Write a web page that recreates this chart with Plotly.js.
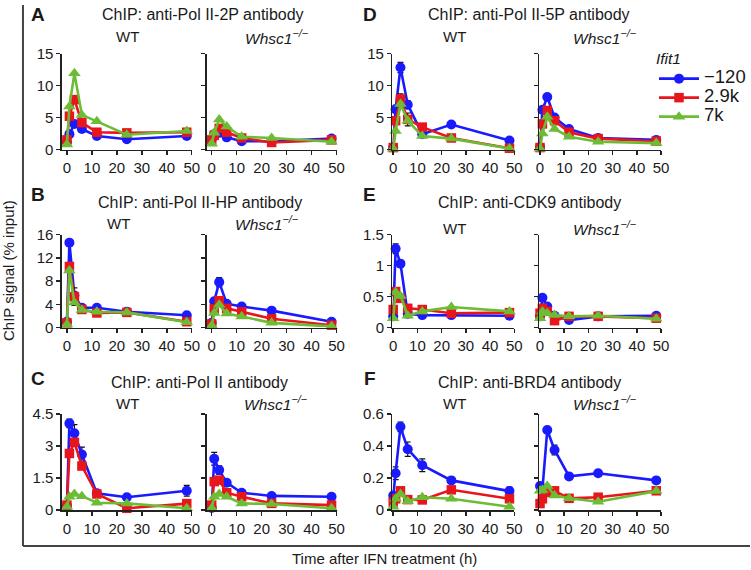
<!DOCTYPE html>
<html>
<head>
<meta charset="utf-8">
<script src="https://cdn.plot.ly/plotly-3.0.1.min.js"></script>
<style>
  html, body { margin: 0; padding: 0; background: #fff; }
  #chart { width: 751px; height: 570px; }
</style>
</head>
<body>
<div id="chart"></div>
<script>
// ---------- DATA ----------
const times = [0, 1, 3, 6, 12, 24, 48];
const seriesNames = ['\u2212120', '2.9k', '7k'];
const genotypes = ['WT', 'Whsc1'];
const panelLetters = ['A', 'B', 'C', 'D', 'E', 'F'];
const panelTitles = [
  'ChIP: anti-Pol II-2P antibody',
  'ChIP: anti-Pol II-HP antibody',
  'ChIP: anti-Pol II antibody',
  'ChIP: anti-Pol II-5P antibody',
  'ChIP: anti-CDK9 antibody',
  'ChIP: anti-BRD4 antibody'
];
const xTicks = [0, 10, 20, 30, 40, 50];
const yTicksA = [0, 5, 10, 15];
const yTicksB = [0, 4, 8, 12, 16];
const yTicksC = [0, 1.5, 3, 4.5];
const yTicksD = [0, 5, 10, 15];
const yTicksE = [0, 0.5, 1, 1.5];
const yTicksF = [0, 0.2, 0.4, 0.6];

// A: anti-Pol II-2P
const A_WT_m120 = [1.2, 2.4, 4.0, 3.2, 2.1, 1.6, 2.1];
const A_WT_2k9  = [1.5, 5.2, 7.8, 4.2, 2.7, 2.6, 2.7];
const A_WT_7k   = [0.8, 6.7, 11.9, 5.4, 4.4, 2.3, 2.9];
const A_KO_m120 = [1.6, 2.4, 2.6, 1.9, 1.3, 1.3, 1.7];
const A_KO_2k9  = [1.5, 2.2, 3.3, 2.7, 1.8, 1.1, 1.5];
const A_KO_7k   = [0.9, 2.6, 4.7, 3.6, 2.0, 1.8, 1.2];
// B: anti-Pol II-HP
const B_WT_m120 = [1.0, 14.6, 5.5, 3.4, 3.4, 2.7, 2.1];
const B_WT_2k9  = [0.8, 10.5, 5.3, 3.1, 2.5, 2.6, 1.0];
const B_WT_7k   = [0.5, 9.8, 4.3, 3.0, 2.7, 2.6, 0.9];
const B_KO_m120 = [0.8, 4.5, 7.8, 4.1, 3.6, 2.9, 1.0];
const B_KO_2k9  = [0.6, 3.2, 4.6, 3.3, 2.7, 1.5, 0.4];
const B_KO_7k   = [0.3, 2.5, 3.9, 2.4, 1.9, 0.8, 0.2];
// C: anti-Pol II
const C_WT_m120 = [0.2, 4.06, 3.6, 2.6, 0.78, 0.6, 0.9];
const C_WT_2k9  = [0.23, 2.65, 3.17, 2.06, 0.75, 0.08, 0.3];
const C_WT_7k   = [0.15, 0.62, 0.75, 0.65, 0.34, 0.31, 0.08];
const C_KO_m120 = [0.1, 2.4, 1.87, 1.28, 0.81, 0.66, 0.62];
const C_KO_2k9  = [0.23, 1.33, 1.4, 0.81, 0.62, 0.31, 0.23];
const C_KO_7k   = [0.08, 0.62, 0.75, 0.62, 0.31, 0.28, 0.08];
// D: anti-Pol II-5P
const D_WT_m120 = [0.3, 6.3, 12.8, 7.0, 2.4, 3.9, 1.4];
const D_WT_2k9  = [0.3, 4.5, 7.9, 4.7, 3.5, 1.8, 0.2];
const D_WT_7k   = [0.1, 2.9, 7.1, 4.5, 2.1, 1.7, 0.15];
const D_KO_m120 = [0.4, 6.2, 8.2, 5.0, 3.2, 1.8, 1.5];
const D_KO_2k9  = [0.3, 4.0, 6.1, 4.5, 2.7, 1.7, 1.3];
const D_KO_7k   = [0.1, 2.5, 5.1, 3.2, 2.0, 1.2, 1.0];
// E: anti-CDK9
const E_WT_m120 = [0.18, 1.27, 1.03, 0.22, 0.2, 0.2, 0.19];
const E_WT_2k9  = [0.29, 0.58, 0.47, 0.31, 0.29, 0.23, 0.24];
const E_WT_7k   = [0.15, 0.57, 0.51, 0.19, 0.26, 0.33, 0.26];
const E_KO_m120 = [0.18, 0.48, 0.34, 0.19, 0.12, 0.18, 0.19];
const E_KO_2k9  = [0.23, 0.31, 0.26, 0.11, 0.18, 0.18, 0.15];
const E_KO_7k   = [0.15, 0.26, 0.23, 0.2, 0.18, 0.19, 0.14];
// F: anti-BRD4
const F_WT_m120 = [0.09, 0.23, 0.52, 0.38, 0.28, 0.185, 0.118];
const F_WT_2k9  = [0.05, 0.07, 0.12, 0.065, 0.063, 0.126, 0.07];
const F_WT_7k   = [0.02, 0.07, 0.1, 0.055, 0.08, 0.07, 0.02];
const F_KO_m120 = [0.15, 0.13, 0.5, 0.375, 0.21, 0.23, 0.185];
const F_KO_2k9  = [0.04, 0.07, 0.11, 0.12, 0.073, 0.08, 0.12];
const F_KO_7k   = [0.12, 0.125, 0.15, 0.09, 0.073, 0.052, 0.118];

// error bars; null = none visible
const B_WT_2k9_err  = [0, 0, 1.5, 0, 0, 0, 0];
const B_KO_m120_err = [0, 0, 0.8, 0, 0, 0, 0];
const C_WT_m120_err = [0, 0.2, 0.4, 0.35, 0, 0, 0.25];
const C_KO_m120_err = [0, 0.3, 0.2, 0.15, 0.1, 0, 0];
const D_WT_m120_err = [0, 0.6, 0.8, 0.6, 0, 0, 0];
const D_WT_2k9_err  = [0, 0, 0.8, 1.0, 0, 0, 0];
const E_WT_m120_err = [0, 0.08, 0.05, 0, 0, 0, 0.05];
const F_WT_m120_err = [0, 0.04, 0.03, 0.045, 0.04, 0, 0.025];
const F_KO_m120_err = [0, 0, 0.01, 0.03, 0, 0, 0];

// ---------- STRUCTURE ----------
const panels = [
  {wt: [A_WT_m120, A_WT_2k9, A_WT_7k], ko: [A_KO_m120, A_KO_2k9, A_KO_7k],
   wtErr: [null, null, null], koErr: [null, null, null], ticks: yTicksA},
  {wt: [B_WT_m120, B_WT_2k9, B_WT_7k], ko: [B_KO_m120, B_KO_2k9, B_KO_7k],
   wtErr: [null, B_WT_2k9_err, null], koErr: [B_KO_m120_err, null, null], ticks: yTicksB},
  {wt: [C_WT_m120, C_WT_2k9, C_WT_7k], ko: [C_KO_m120, C_KO_2k9, C_KO_7k],
   wtErr: [C_WT_m120_err, null, null], koErr: [C_KO_m120_err, null, null], ticks: yTicksC},
  {wt: [D_WT_m120, D_WT_2k9, D_WT_7k], ko: [D_KO_m120, D_KO_2k9, D_KO_7k],
   wtErr: [D_WT_m120_err, D_WT_2k9_err, null], koErr: [null, null, null], ticks: yTicksD},
  {wt: [E_WT_m120, E_WT_2k9, E_WT_7k], ko: [E_KO_m120, E_KO_2k9, E_KO_7k],
   wtErr: [E_WT_m120_err, null, null], koErr: [null, null, null], ticks: yTicksE},
  {wt: [F_WT_m120, F_WT_2k9, F_WT_7k], ko: [F_KO_m120, F_KO_2k9, F_KO_7k],
   wtErr: [F_WT_m120_err, null, null], koErr: [F_KO_m120_err, null, null], ticks: yTicksF}
];

// ---------- STYLE / LAYOUT ----------
const W = 751, H = 570;
const px = v => v / W;
const py = v => 1 - v / H;
const FONT = 'Liberation Sans, Arial, Helvetica, sans-serif';
const TXT = '#1a1a1a';
const AX = '#222';
const colors = ['#1a1aff', '#e8161c', '#6cbd35'];
const symbols = ['circle', 'square', 'triangle-up'];
const msizes = [10, 9.5, 11];

const colDefs = [
  {x0: 62, x1: 192, range: [-2, 50]},
  {x0: 207, x1: 337, range: [-2, 50]},
  {x0: 393, x1: 515, range: [-0.3, 50]},
  {x0: 540, x1: 662, range: [-0.3, 50]}
];
const rowDefs = [
  {top: 53.5, bot: 149.5},
  {top: 234.5, bot: 327.5},
  {top: 414, bot: 510}
];

const traces = [];
const layout = {
  width: W, height: H,
  margin: {l: 0, r: 0, t: 0, b: 0},
  paper_bgcolor: '#fff', plot_bgcolor: 'rgba(0,0,0,0)',
  font: {family: FONT, size: 15, color: TXT},
  showlegend: true,
  legend: {
    x: px(655), y: py(44), xanchor: 'left', yanchor: 'top',
    font: {family: FONT, size: 12, color: TXT},
    title: {text: '<i>Ifit1</i>', font: {family: FONT, size: 15.5, color: TXT}, side: 'top'},
    itemwidth: 40, bgcolor: 'rgba(0,0,0,0)', borderwidth: 0, tracegroupgap: 0,
    itemclick: false, itemdoubleclick: false
  },
  annotations: [],
  shapes: []
};

panels.forEach((p, pi) => {
  const rowI = pi % 3;
  const colSide = pi < 3 ? 0 : 2;
  const row = rowDefs[rowI];
  const ymax = p.ticks[p.ticks.length - 1];
  [0, 1].forEach(s => {
    const idx = pi * 2 + s + 1;
    const sfx = idx === 1 ? '' : String(idx);
    const col = colDefs[colSide + s];
    layout['xaxis' + sfx] = {
      domain: [px(col.x0), px(col.x1)], range: col.range,
      anchor: 'y' + sfx,
      showline: true, linecolor: AX, linewidth: 1.5,
      ticks: 'outside', ticklen: 4, tickwidth: 1.5, tickcolor: AX,
      tickmode: 'array', tickvals: xTicks, ticktext: xTicks.map(String),
      tickfont: {family: FONT, size: 15, color: TXT},
      showgrid: false, zeroline: false, fixedrange: true
    };
    layout['yaxis' + sfx] = {
      domain: [py(row.bot), py(row.top)], range: [0, ymax],
      anchor: 'x' + sfx,
      showline: true, linecolor: AX, linewidth: 1.5,
      ticks: 'outside', ticklen: 4, tickwidth: 1.5, tickcolor: AX,
      tickmode: 'array', tickvals: p.ticks, ticktext: p.ticks.map(String),
      showticklabels: s === 0,
      tickfont: {family: FONT, size: 15, color: TXT},
      showgrid: false, zeroline: false, fixedrange: true
    };
    const data = s === 0 ? p.wt : p.ko;
    const errs = s === 0 ? p.wtErr : p.koErr;
    data.forEach((vals, si) => {
      const tr = {
        type: 'scatter', mode: 'lines+markers',
        x: times, y: vals,
        name: '<span style="font-size:18.5px">' + seriesNames[si] + '</span>',
        xaxis: 'x' + sfx, yaxis: 'y' + sfx,
        line: {color: colors[si], width: 2.6},
        marker: {color: colors[si], symbol: symbols[si], size: msizes[si]},
        cliponaxis: false,
        showlegend: idx === 7,
        hoverinfo: 'skip'
      };
      if (errs[si]) {
        tr.error_y = {type: 'data', array: errs[si], visible: true,
                      color: '#111', thickness: 1.2, width: 3};
      }
      traces.push(tr);
    });
  });
});

const ann = (text, x, y, opts) => Object.assign({
  text, x: px(x), y: py(y), xref: 'paper', yref: 'paper',
  xanchor: 'center', yanchor: 'middle', showarrow: false,
  font: {family: FONT, size: 15, color: TXT}
}, opts || {});

const letterPos = [[38, 15], [38, 195], [38, 378], [370, 15], [370, 195], [370, 378]];
const titlePos = [[203, 15], [200, 202], [200, 382], [530, 15], [530, 202], [530, 382]];
const wtPos = [[128, 37], [119, 223], [128, 403], [455, 37], [455, 228], [455, 403]];
const koPos = [[277, 37], [267, 223], [276, 403], [605, 37], [605, 228], [605, 403]];

panelLetters.forEach((L, i) => {
  layout.annotations.push(ann('<b>' + L + '</b>', letterPos[i][0], letterPos[i][1],
    {font: {family: FONT, size: 19, color: TXT}}));
  layout.annotations.push(ann(panelTitles[i], titlePos[i][0], titlePos[i][1],
    {font: {family: FONT, size: 16, color: TXT}}));
  layout.annotations.push(ann(genotypes[0], wtPos[i][0], wtPos[i][1]));
  layout.annotations.push(ann('<i>' + genotypes[1] + '</i><sup><i>\u2212/\u2212</i></sup>',
    koPos[i][0], koPos[i][1], {font: {family: FONT, size: 15.5, color: TXT}}));
});

layout.annotations.push(ann('ChIP signal (% input)', 9, 270, {textangle: -90}));
layout.annotations.push(ann('Time after IFN treatment (h)', 385, 558));

layout.shapes.push({type: 'line', xref: 'paper', yref: 'paper',
  x0: px(23), x1: px(23), y0: py(5), y1: py(546), line: {color: '#444', width: 2}});
layout.shapes.push({type: 'line', xref: 'paper', yref: 'paper',
  x0: px(23), x1: 1, y0: py(546), y1: py(546), line: {color: '#444', width: 2}});

Plotly.newPlot('chart', traces, layout, {staticPlot: true, displayModeBar: false});
</script>
</body>
</html>
